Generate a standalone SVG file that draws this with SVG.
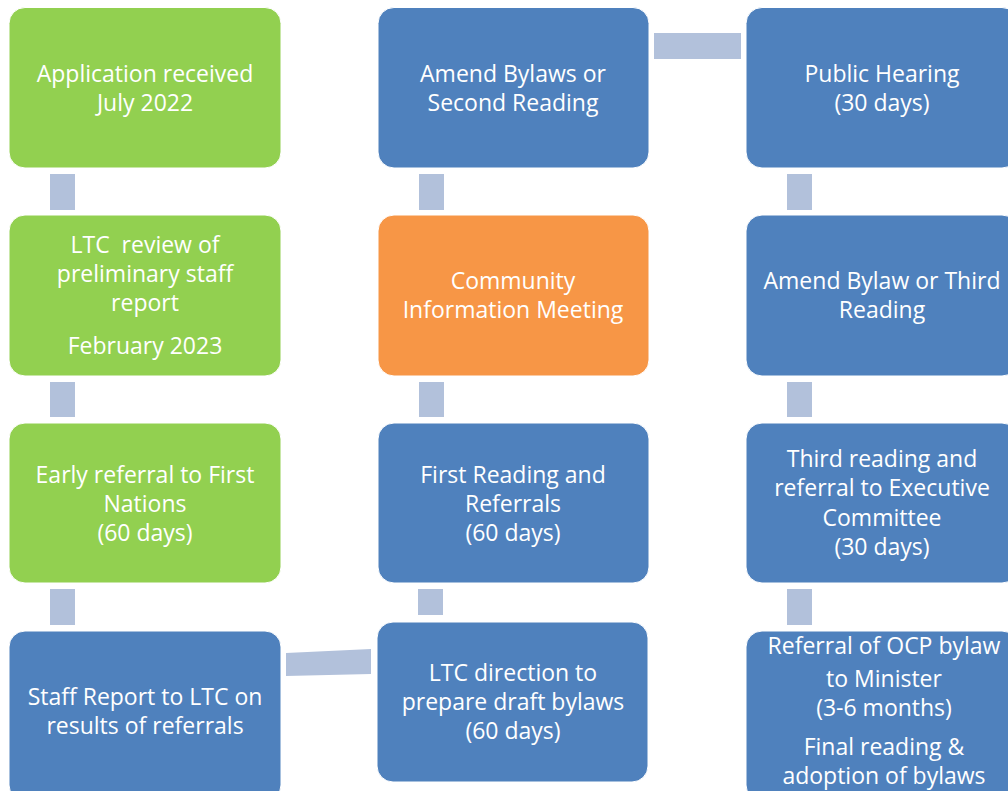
<svg xmlns="http://www.w3.org/2000/svg" width="1008" height="791" viewBox="0 0 1008 791">
<style>
.g{fill:#92D050}
.b{fill:#4F81BD}
.o{fill:#F79646}
.box{stroke:#ffffff;stroke-width:1}
.c{fill:#B2C1DB}
text{font-family:"Open Sans","Liberation Sans",sans-serif;font-size:23px;fill:#ffffff;text-anchor:middle}
</style>
<rect width="1008" height="791" fill="#ffffff"/>
<g id="connectors">
<rect class="c" x="50" y="174" width="25" height="36"/>
<rect class="c" x="50" y="382" width="25" height="35"/>
<rect class="c" x="50" y="589" width="25" height="36"/>
<polygon class="c" points="286,653 371,649 371,674 286,676"/>
<rect class="c" x="418" y="589" width="25" height="26"/>
<rect class="c" x="419" y="382" width="25" height="35"/>
<rect class="c" x="419" y="174" width="25" height="36"/>
<rect class="c" x="654" y="33" width="87" height="26"/>
<rect class="c" x="787" y="174" width="25" height="36"/>
<rect class="c" x="787" y="382" width="25" height="35"/>
<rect class="c" x="787" y="589" width="25" height="36"/>
</g>
<g id="n1"><rect class="g box" x="9" y="7.5" width="272" height="160.5" rx="16"/><text x="145" y="82">Application received</text><text x="145" y="111">July 2022</text></g>
<g id="n2"><rect class="g box" x="9" y="215" width="272" height="161" rx="16"/><text x="145" y="253" xml:space="preserve">LTC  review of</text><text x="145" y="282">preliminary staff</text><text x="145" y="311">report</text><text x="145" y="354">February 2023</text></g>
<g id="n3"><rect class="g box" x="9" y="423" width="272" height="160" rx="16"/><text x="145" y="483">Early referral to First</text><text x="145" y="512">Nations</text><text x="145" y="541">(60 days)</text></g>
<g id="n4"><rect class="b box" x="9" y="631" width="272" height="170" rx="16"/><text x="145" y="705">Staff Report to LTC on</text><text x="145" y="734">results of referrals</text></g>
<g id="n5"><rect class="b box" x="377" y="622" width="271" height="160" rx="16"/><text x="513" y="681">LTC direction to</text><text x="513" y="710">prepare draft bylaws</text><text x="513" y="739">(60 days)</text></g>
<g id="n6"><rect class="b box" x="378" y="423" width="271" height="160" rx="16"/><text x="513" y="483">First Reading and</text><text x="513" y="512">Referrals</text><text x="513" y="541">(60 days)</text></g>
<g id="n7"><rect class="o box" x="378" y="215" width="271" height="161" rx="16"/><text x="513" y="289">Community</text><text x="513" y="318">Information Meeting</text></g>
<g id="n8"><rect class="b box" x="378" y="7.5" width="271" height="160.5" rx="16"/><text x="513" y="82">Amend Bylaws or</text><text x="513" y="111">Second Reading</text></g>
<g id="n9"><rect class="b box" x="746" y="7.5" width="272" height="160.5" rx="16"/><text x="882" y="82">Public Hearing</text><text x="882" y="111">(30 days)</text></g>
<g id="n10"><rect class="b box" x="746" y="215" width="272" height="161" rx="16"/><text x="882" y="289">Amend Bylaw or Third</text><text x="882" y="318">Reading</text></g>
<g id="n11"><rect class="b box" x="746" y="423" width="272" height="160" rx="16"/><text x="882" y="467">Third reading and</text><text x="882" y="496">referral to Executive</text><text x="882" y="526">Committee</text><text x="882" y="555">(30 days)</text></g>
<g id="n12"><rect class="b box" x="746" y="631" width="272" height="170" rx="16"/><text x="884" y="654">Referral of OCP bylaw</text><text x="884" y="687">to Minister</text><text x="884" y="716">(3-6 months)</text><text x="884" y="755">Final reading &amp;</text><text x="884" y="784">adoption of bylaws</text></g>
</svg>
